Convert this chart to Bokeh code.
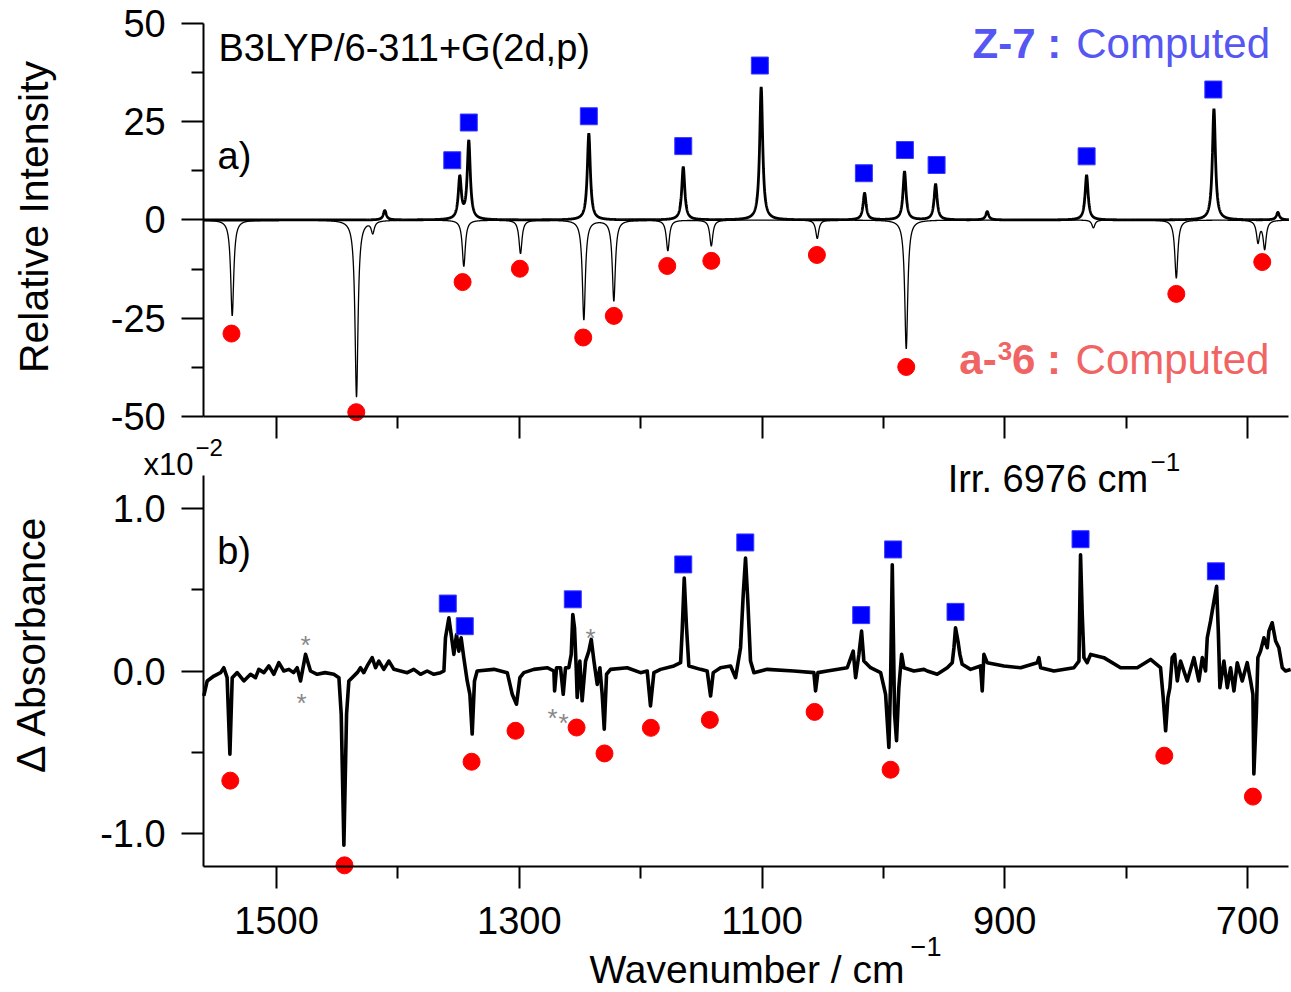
import numpy as np
from math import pi
from bokeh.plotting import figure
from bokeh.models import Range1d, FixedTicker, Label, NumeralTickFormatter, LinearAxis
from bokeh.embed import file_html
from bokeh.resources import INLINE

# ---------------- data ----------------
# a) computed stick spectra (wavenumber / cm-1, relative intensity)
z7_stick_wn = [1410.8, 1349.0, 1341.6, 1242.7, 1164.9, 1100.7, 1015.5, 982.6, 957.0, 914.5, 832.6, 727.7, 675.0]
z7_stick_int = [2.4, 10.6, 19.9, 22.0, 13.5, 33.8, 6.8, 12.3, 9.1, 2.1, 11.4, 28.3, 1.9]
a36_stick_wn = [1536.5, 1434.1, 1420.7, 1345.7, 1299.0, 1246.8, 1222.1, 1177.6, 1141.8, 1054.5, 981.2, 827.0, 758.7, 691.4, 685.9]
a36_stick_int = [-24.4, -45.0, -3.0, -11.8, -8.5, -25.4, -20.6, -7.8, -6.6, -4.7, -32.8, -2.0, -14.8, -5.5, -7.2]

# a) band markers
z7_mark_a_wn = [1355.2, 1341.6, 1242.7, 1164.9, 1101.8, 1016.1, 982.3, 956.2, 832.6, 728.2]
z7_mark_a_y = [15.2, 24.8, 26.4, 18.8, 39.3, 11.9, 17.8, 14.0, 16.2, 33.2]
a36_mark_a_wn = [1537.1, 1434.3, 1346.7, 1299.5, 1247.3, 1222.1, 1178.1, 1141.8, 1054.8, 981.2, 758.7, 687.9]
a36_mark_a_y = [-28.9, -48.9, -15.8, -12.4, -29.9, -24.4, -11.7, -10.4, -8.9, -37.4, -18.8, -10.7]

# b) experimental difference spectrum (Delta absorbance, x10^-2)
exp_wn = [1559.9, 1557.1, 1551.6, 1546.1, 1543.4, 1540.7, 1538.4, 1536.5, 1532.4, 1526.9, 1521.4, 1517.3, 1514.6,
          1510.4, 1506.3, 1502.2, 1498.1, 1494.0, 1489.8, 1486.0, 1483.0, 1480.2, 1476.1, 1472.0, 1466.5, 1460.0,
          1452.8, 1448.6, 1446.7, 1444.5, 1442.3, 1440.4, 1433.5, 1430.8, 1428.1, 1425.3, 1421.2, 1418.4, 1415.7,
          1411.6, 1407.4, 1403.3, 1397.8, 1392.3, 1386.9, 1381.4, 1375.9, 1370.4, 1364.9, 1362.1,
          1360.8, 1358.0, 1356.1, 1353.9, 1351.7, 1349.8, 1347.9, 1345.7, 1342.9, 1340.7, 1338.8, 1336.9, 1334.7,
          1320.9, 1309.9, 1305.8, 1302.3, 1299.5, 1296.2, 1288.0, 1277.0, 1271.5, 1270.9, 1269.3, 1266.0, 1263.8,
          1261.9, 1259.2,
          1257.2, 1255.9, 1254.5, 1253.1, 1252.3, 1250.1, 1248.2, 1245.4, 1242.7, 1240.7, 1238.5, 1235.8, 1233.6,
          1231.7, 1230.0, 1228.1, 1224.8, 1211.1, 1200.1, 1194.6, 1191.9, 1189.1, 1183.6, 1172.6, 1167.1, 1165.8,
          1164.1, 1162.2, 1160.3, 1150.7, 1145.2, 1142.4, 1140.2, 1134.2, 1125.9, 1121.8, 1117.7, 1115.5, 1113.6,
          1111.7, 1109.5, 1106.7, 1095.7, 1073.8, 1057.3, 1055.9, 1054.0, 1046.3, 1029.8, 1024.9, 1022.9, 1020.2,
          1018.0, 1016.1, 1010.6, 1002.3, 998.2, 995.5, 994.1, 992.7, 990.8, 989.2, 987.3, 985.0, 983.1, 974.9, 966.6,
          963.9, 955.7, 947.4, 943.3, 941.9, 940.6, 938.6, 937.0, 935.1, 928.2, 920.0, 918.6, 917.2, 914.5, 900.7,
          887.0, 873.3, 871.9, 870.5, 859.5, 843.1, 838.9, 837.6, 836.2, 834.8, 832.1, 829.3, 818.4, 804.6, 790.9,
          779.9, 771.7, 769.5, 767.5, 765.6, 764.0, 762.1, 760.1, 757.9, 755.2, 749.7, 744.2, 740.1, 737.3, 734.6,
          733.2, 730.5, 727.7, 725.5, 724.1, 722.8, 719.5, 716.7, 714.0, 711.2, 708.5, 704.4, 700.3, 697.5, 695.6,
          694.8, 692.8, 691.5, 689.3, 686.5, 683.8, 682.4, 679.7, 676.9, 674.2, 671.4, 668.7, 664.5]
exp_dabs = [-0.153, -0.061, -0.031, -0.010, 0.020, -0.041, -0.510, -0.041, -0.010, -0.061, -0.020, -0.041, 0.010,
            -0.010, 0.031, -0.020, 0.051, 0.000, 0.010, -0.010, 0.020, -0.061, 0.102, 0.000, -0.020, -0.010,
            -0.020, -0.041, -0.265, -1.070, -0.265, -0.061, -0.010, 0.020, -0.010, 0.031, 0.082, 0.020, 0.061,
            0.010, 0.061, 0.010, 0.000, -0.010, 0.010, -0.020, 0.000, -0.020, -0.010, 0.000,
            0.204, 0.326, 0.224, 0.102, 0.224, 0.122, 0.204, 0.082, -0.061, -0.143, -0.387, -0.061, 0.000,
            0.010, -0.010, -0.143, -0.204, -0.041, -0.010, 0.010, 0.020, 0.000, -0.122, 0.020, 0.020, -0.143,
            0.020, 0.020,
            0.102, 0.347, 0.265, 0.020, -0.163, 0.061, -0.183, 0.061, 0.122, 0.194, 0.061, -0.082, 0.020,
            -0.143, -0.357, -0.020, 0.010, 0.020, -0.010, 0.000, -0.214, -0.010, 0.010, 0.031, 0.051, 0.245,
            0.571, 0.265, 0.031, 0.010, 0.000, -0.153, -0.010, 0.020, 0.031, -0.041, 0.143, 0.469, 0.693,
            0.428, 0.061, -0.010, 0.010, 0.000, -0.010, -0.122, -0.010, 0.000, 0.020, 0.122, -0.041, 0.102,
            0.245, 0.061, 0.020, -0.010, -0.143, -0.469, -0.061, 0.652, -0.265, -0.428, -0.102, 0.102, 0.020, 0.000, 0.010,
            0.000, -0.020, 0.020, 0.051, 0.143, 0.265, 0.184, 0.102, 0.041, 0.010, 0.031, -0.122, 0.102, 0.051, 0.031,
            0.020, 0.051, 0.082, 0.020, 0.000, 0.020, 0.061, 0.714, 0.347, 0.082, 0.051, 0.102, 0.082, 0.020, 0.020,
            0.071, 0.020, -0.163, -0.367, -0.163, -0.102, 0.082, 0.102, -0.061, 0.061, -0.061, 0.082, -0.061, 0.082, 0.000,
            0.204, 0.306, 0.428, 0.520, 0.245, -0.102, 0.061, -0.102, 0.020, -0.122, 0.051, -0.061, 0.051, -0.061, -0.143,
            -0.632, -0.265, 0.082, 0.122, 0.204, 0.143, 0.245, 0.296, 0.184, 0.143, 0.020, 0.000, 0.010]

# b) band markers
z7_mark_b_wn = [1358.9, 1344.9, 1255.9, 1164.9, 1113.8, 1018.3, 992.0, 940.6, 837.6, 726.1]
z7_mark_b_y = [0.414, 0.275, 0.440, 0.654, 0.789, 0.343, 0.746, 0.363, 0.809, 0.612]
a36_mark_b_wn = [1538.1, 1444.0, 1339.3, 1303.1, 1252.8, 1229.8, 1191.6, 1143.0, 1056.7, 994.1, 768.6, 695.6]
a36_mark_b_y = [-0.673, -1.193, -0.557, -0.367, -0.347, -0.506, -0.349, -0.300, -0.251, -0.606, -0.520, -0.771]

# unassigned bands marked with asterisks
star_wn = [1476.1, 1479.4, 1272.6, 1263.5, 1241.3]
star_y = [0.160, -0.195, -0.287, -0.317, 0.203]

x_major = [1500, 1300, 1100, 900, 700]
x_minor = [1400, 1200, 1000, 800]
a_major = [-50, -25, 0, 25, 50]
a_minor = [-37.5, -12.5, 12.5, 37.5]
b_major = [-1, 0, 1]
b_minor = [-0.5, 0.5]

# ---------------- rendering ----------------
FONT = "Liberation Sans"
HWHM = 1.5  # Lorentzian display half-width of the computed bands (cm-1)
grid = np.arange(1560.0, 665.9, -0.1)


def lorentz(centers, heights):
    out = np.zeros_like(grid)
    for c, h in zip(centers, heights):
        out += h / (1.0 + ((grid - c) / HWHM) ** 2)
    return out


# one canvas; panel a uses the default y range, panel b the extra range "b"
p = figure(width=1291, height=992,
           x_range=Range1d(1727.4, 663.8), y_range=Range1d(-196.56, 55.85),
           x_axis_type=None, y_axis_type=None,
           output_backend="svg", toolbar_location=None,
           min_border_left=0, min_border_right=0, min_border_top=0, min_border_bottom=0)
p.extra_y_ranges = {"b": Range1d(-1.9734, 4.1156)}
p.outline_line_color = None
p.background_fill_color = "white"
p.border_fill_color = "white"


def style(ax, standoff):
    ax.axis_line_width = 2
    ax.axis_line_color = "black"
    ax.major_tick_line_width = 2
    ax.minor_tick_line_width = 2
    ax.major_tick_line_color = "black"
    ax.minor_tick_line_color = "black"
    ax.major_tick_in = 0
    ax.minor_tick_in = 0
    ax.major_tick_out = 22
    ax.minor_tick_out = 12
    ax.major_label_text_font = FONT
    ax.major_label_text_font_size = "38px"
    ax.major_label_text_color = "black"
    ax.major_label_standoff = standoff


ax_ay = LinearAxis(fixed_location=1560, bounds=(-50, 50),
                   ticker=FixedTicker(ticks=a_major, minor_ticks=a_minor),
                   formatter=NumeralTickFormatter(format="0"))
style(ax_ay, 16)
p.add_layout(ax_ay, "left")

ax_by = LinearAxis(y_range_name="b", fixed_location=1560, bounds=(-1.2, 1.2),
                   ticker=FixedTicker(ticks=b_major, minor_ticks=b_minor),
                   formatter=NumeralTickFormatter(format="0.0"))
style(ax_by, 16)
p.add_layout(ax_by, "left")

ax_ax = LinearAxis(fixed_location=-50, bounds=(666, 1560),
                   ticker=FixedTicker(ticks=x_major, minor_ticks=x_minor),
                   major_label_overrides={t: "" for t in x_major})
style(ax_ax, 0)
p.add_layout(ax_ax, "below")

ax_bx = LinearAxis(y_range_name="b", fixed_location=-1.2, bounds=(666, 1560),
                   ticker=FixedTicker(ticks=x_major, minor_ticks=x_minor))
style(ax_bx, 18)
p.add_layout(ax_bx, "below")

# panel a
p.line(grid, lorentz(a36_stick_wn, a36_stick_int), line_color="black", line_width=1.3)
p.line(grid, lorentz(z7_stick_wn, z7_stick_int), line_color="black", line_width=2.8)
p.scatter(z7_mark_a_wn, z7_mark_a_y, marker="square", size=17, fill_color="#0000ff", line_color="#3a3aff", line_width=1)
p.scatter(a36_mark_a_wn, a36_mark_a_y, marker="circle", size=17, fill_color="#ff0000", line_color="#ff0000")

# panel b
p.line(exp_wn, exp_dabs, y_range_name="b", line_color="black", line_width=3.6, line_join="round")
p.scatter(z7_mark_b_wn, z7_mark_b_y, y_range_name="b", marker="square", size=17,
          fill_color="#0000ff", line_color="#3a3aff", line_width=1)
p.scatter(a36_mark_b_wn, a36_mark_b_y, y_range_name="b", marker="circle", size=17,
          fill_color="#ff0000", line_color="#ff0000")


def lab(x, y, text, size, color="black", bold=False, align="left", angle=0.0,
        baseline="alphabetic", rng="default"):
    p.add_layout(Label(x=x, y=y, text=text, text_font=FONT, text_font_size=size,
                       text_color=color, text_font_style="bold" if bold else "normal",
                       text_align=align, text_baseline=baseline, angle=angle,
                       y_range_name=rng))


BLUE_T = "#5656f2"
RED_T = "#f06464"

# panel a texts
lab(1547.8, 43.7, "B3LYP/6-311+G(2d,p)", "38px")
lab(1548.6, 16.3, "a)", "38px")
lab(926.6, 45.0, "Z-7 :", "42px", BLUE_T, bold=True)
lab(841.1, 45.0, "Computed", "42px", BLUE_T)
lab(937.5, -35.5, "a-", "42px", RED_T, bold=True)
lab(905.9, -33.4, "3", "26px", RED_T, bold=True)
lab(894.1, -35.5, "6 :", "42px", RED_T, bold=True)
lab(841.7, -35.5, "Computed", "42px", RED_T)
lab(1699.4, 0.76, "Relative Intensity", "41px", align="center", angle=pi / 2)

# panel b texts
lab(1548.9, 0.735, "b)", "38px", rng="b")
lab(947.1, 1.181, "Irr. 6976 cm", "38px", rng="b")
lab(779.9, 1.285, "\u22121", "26px", rng="b")
lab(1609.6, 1.267, "x10", "31px", rng="b")
lab(1566.7, 1.371, "\u22122", "24px", rng="b")
lab(1701.9, 0.165, "\u0394 Absorbance", "41px", align="center", angle=pi / 2, rng="b")
lab(1112.4, -1.830, "Wavenumber / cm", "39px", align="center", rng="b")
lab(977.6, -1.690, "\u22121", "27px", rng="b")
for sx, sy in zip(star_wn, star_y):
    lab(sx, sy, "*", "26px", "#888888", align="center", baseline="middle", rng="b")

open("out.html", "w").write(file_html(p, INLINE))
